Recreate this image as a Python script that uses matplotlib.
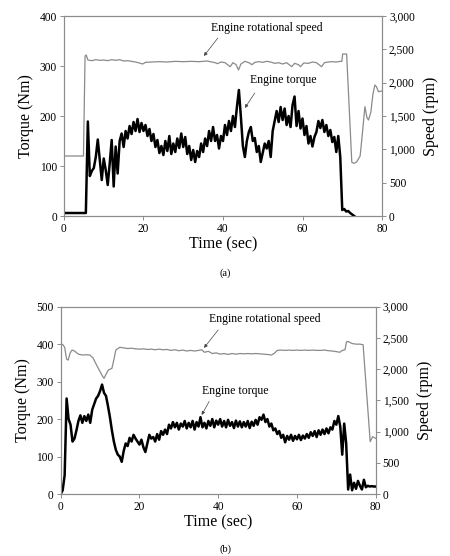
import numpy as np
import matplotlib
matplotlib.use("Agg")
import matplotlib.pyplot as plt

plt.rcParams["font.family"] = ["Liberation Serif", "DejaVu Serif"]
plt.rcParams["font.size"] = 8.3

# ---------------- data, panel (a) ----------------
# torque sampled every 0.5 s from 0 to 73 s
torque_a = [
    6, 6, 6, 6, 6, 6, 6, 6, 6, 6,                        # 0 - 4.5
    6, 6, 189, 80, 90, 96, 118, 153, 112, 72,            # 5 - 9.5
    115, 92, 62, 105, 152, 59, 139, 85, 150, 165,        # 10 - 14.5
    138, 170, 155, 180, 164, 188, 170, 194, 168, 186,    # 15 - 19.5
    170, 182, 160, 174, 150, 164, 138, 152, 126, 140,    # 20 - 24.5
    122, 150, 130, 160, 124, 145, 128, 155, 136, 165,    # 25 - 29.5
    138, 158, 124, 140, 112, 132, 108, 130, 118, 145,    # 30 - 34.5
    128, 155, 140, 170, 150, 178, 150, 162, 135, 160,    # 35 - 39.5
    150, 182, 162, 190, 170, 200, 178, 218, 252, 198,    # 40 - 44.5
    140, 118, 150, 168, 178, 150, 156, 128, 140, 108,    # 45 - 49.5
    126, 145, 135, 150, 118, 170, 190, 210, 188, 218,    # 50 - 54.5
    192, 215, 182, 200, 178, 222, 239, 180, 210, 175,    # 55 - 59.5
    195, 162, 180, 145, 160, 139, 158, 168, 190, 176,    # 60 - 64.5
    192, 168, 182, 160, 172, 148, 158, 128, 160, 118,    # 65 - 69.5
    12, 14, 9, 10, 6, 3, 0,                              # 70 - 73
]
speed_a_t = [0, 4.9, 5.3, 5.6, 6.0, 7, 8, 9, 10, 11, 12, 13, 14, 15, 16, 17, 18, 19,
             19.8, 20.5, 22, 24, 26, 28, 30, 32, 34, 36, 38, 38.6, 39.5, 40.5, 41.8,
             42.5, 43.3, 43.9, 44.5, 45.5, 46.5, 47.3, 48, 49, 50, 51, 52, 53, 54, 55,
             56, 57.3, 58, 59, 59.5, 60.3, 61.5, 62.5, 63.5, 64.8, 65.5, 66.5, 67.5,
             68.5, 69.5, 69.9, 70.1, 71.1, 72.4, 73, 73.6, 74.5, 75, 75.7, 76.2, 76.6,
             77.2, 77.7, 78.2, 78.6, 79.1, 80]
speed_a = [900, 900, 2400, 2415, 2340, 2330, 2345, 2335, 2340, 2330, 2345, 2335, 2345,
           2325, 2330, 2320, 2310, 2295, 2280, 2305, 2310, 2315, 2310, 2320, 2315, 2320,
           2315, 2325, 2300, 2285, 2310, 2300, 2240, 2300, 2270, 2190, 2280, 2320, 2300,
           2270, 2305, 2315, 2305, 2320, 2310, 2290, 2300, 2280, 2300, 2240, 2290, 2270,
           2240, 2295, 2290, 2310, 2300, 2240, 2300, 2310, 2315, 2310, 2320, 2320, 2430,
           2430, 805, 790, 810, 900, 1200, 1640, 1480, 1440, 1560, 1820, 1965, 1940,
           1865, 1875]

# ---------------- data, panel (b) ----------------
# torque sampled every 0.5 s from 0 to 80 s
torque_b = [
    0, 10, 50, 255, 200, 185, 140, 148, 170, 195,        # 0 - 4.5
    210, 190, 208, 195, 212, 190, 225, 240, 255, 262,    # 5 - 9.5
    275, 292, 270, 262, 235, 205, 170, 140, 118, 105,    # 10 - 14.5
    100, 86, 115, 135, 128, 150, 140, 158, 148, 140,     # 15 - 19.5
    132, 145, 125, 112, 135, 158, 148, 152, 140, 160,    # 20 - 24.5
    145, 168, 158, 172, 160, 185, 175, 192, 178, 190,    # 25 - 29.5
    172, 188, 180, 195, 175, 190, 178, 195, 172, 192,    # 30 - 34.5
    180, 205, 178, 190, 175, 195, 182, 200, 178, 196,    # 35 - 39.5
    185, 200, 180, 195, 178, 198, 182, 192, 176, 196,    # 40 - 44.5
    180, 194, 178, 192, 180, 195, 176, 193, 182, 198,    # 45 - 49.5
    185, 205, 198, 212, 192, 200, 180, 188, 170, 175,    # 50 - 54.5
    160, 168, 150, 158, 138, 155, 145, 158, 142, 155,    # 55 - 59.5
    146, 158, 144, 156, 148, 160, 150, 165, 155, 168,    # 60 - 64.5
    152, 170, 158, 172, 160, 175, 162, 178, 172, 195,    # 65 - 69.5
    185, 208, 180, 105, 188, 135, 12, 52, 10, 30,        # 70 - 74.5
    14, 35, 22, 12, 38, 18, 22, 20, 21, 20,              # 75 - 79.5
    20,                                                  # 80
]
speed_b_t = [0, 0.5, 1.0, 1.5, 1.9, 2.4, 2.9, 3.5, 4.5, 5.5, 6.5, 7.4, 8.2, 9.1, 10.0,
             10.5, 11.0, 11.6, 12.1, 13.0, 13.5, 14.0, 15, 16, 17, 18, 19, 20, 21, 22,
             23, 24, 25, 26, 27, 28, 29, 30, 31, 32, 33, 34, 35, 35.8, 36.5, 37.5, 38.5,
             39.5, 40.5, 41.5, 42.5, 43.5, 44.5, 45.5, 46.5, 47.5, 48.5, 49.5, 50.5,
             51.5, 52.5, 53.5, 54.2, 55, 56, 57, 58, 59, 60, 61, 62, 63, 64, 65, 66, 67,
             68, 69, 70, 70.9, 71.5, 72.2, 72.6, 73.1, 74, 75, 76, 76.8, 78.6, 79.2, 80]
speed_b = [2400, 2395, 2350, 2160, 2145, 2260, 2306, 2290, 2240, 2226, 2230, 2226, 2180,
           2066, 1960, 1900, 1852, 1930, 1986, 2012, 2150, 2306, 2350, 2340, 2330, 2335,
           2325, 2320, 2325, 2315, 2320, 2310, 2320, 2310, 2315, 2300, 2310, 2295, 2305,
           2290, 2300, 2290, 2300, 2310, 2270, 2285, 2250, 2260, 2240, 2250, 2235, 2250,
           2240, 2250, 2245, 2250, 2245, 2250, 2245, 2240, 2235, 2226, 2250, 2300, 2305,
           2300, 2305, 2300, 2305, 2300, 2305, 2300, 2305, 2300, 2300, 2305, 2295, 2290,
           2280, 2270, 2300, 2310, 2440, 2440, 2410, 2400, 2400, 2390, 838, 918, 891]

t_a = np.arange(0, 73.01, 0.5)
t_b = np.arange(0, 80.01, 0.5)

speed_ticks = [0, 500, 1000, 1500, 2000, 2500, 3000]
speed_labels = ["0", "500", "1,000", "1,500", "2,000", "2,500", "3,000"]

frame = "#8c8c8c"


def style(ax):
    for s in ax.spines.values():
        s.set_color(frame)
        s.set_linewidth(0.8)
    ax.tick_params(direction="out", length=3, width=0.7, color=frame, pad=2)


def panel(rect, t, torque, st, speed, ymax, yticks, notes):
    ax = fig.add_axes(rect)
    ax2 = ax.twinx()
    ax2.plot(st, speed, color="#8a8a8a", lw=0.9)
    ax.plot(t, torque, color="black", lw=1.8)
    ax.set_zorder(ax2.get_zorder() + 1)
    ax.patch.set_visible(False)
    ax.set_xlim(0, 80)
    ax.set_ylim(0, ymax)
    ax.set_xticks([0, 20, 40, 60, 80])
    ax.set_yticks(yticks)
    ax2.set_ylim(0, 3000)
    ax2.set_yticks(speed_ticks)
    ax2.set_yticklabels(speed_labels)
    ax.set_xlabel("Time (sec)", fontsize=11.5, labelpad=1)
    ax.set_ylabel("Torque (Nm)", fontsize=11.5, labelpad=4)
    ax2.set_ylabel("Speed (rpm)", fontsize=11.5, labelpad=6)
    style(ax)
    style(ax2)
    for label, txy, tail, tip in notes:
        ax.text(txy[0], txy[1], label, ha="center", va="center", fontsize=8.5)
        ax.annotate("", xy=tip, xytext=tail,
                    arrowprops=dict(arrowstyle="-|>", color="#444444", lw=0.5,
                                    mutation_scale=5, shrinkA=0, shrinkB=0))
    return ax


fig = plt.figure(figsize=(4.5, 5.56), dpi=100)

panel([0.1422, 0.6115, 0.7067, 0.3597], t_a, torque_a, speed_a_t, speed_a,
      400, [0, 100, 200, 300, 400],
      [("Engine rotational speed", (51.1, 376), (38.7, 356), (35.2, 320)),
       ("Engine torque", (55.2, 272), (48.0, 246), (45.5, 216))])

panel([0.1349, 0.1115, 0.70, 0.3369], t_b, torque_b, speed_b_t, speed_b,
      500, [0, 100, 200, 300, 400, 500],
      [("Engine rotational speed", (51.8, 467), (40.0, 438), (36.4, 390)),
       ("Engine torque", (44.3, 276), (37.7, 247), (35.8, 211))])

fig.text(0.5, 1 - 273 / 556, "(a)", ha="center", va="center", fontsize=7.5)
fig.text(0.5, 1 - 549 / 556, "(b)", ha="center", va="center", fontsize=7.5)

fig.savefig("out.png", dpi=100)
